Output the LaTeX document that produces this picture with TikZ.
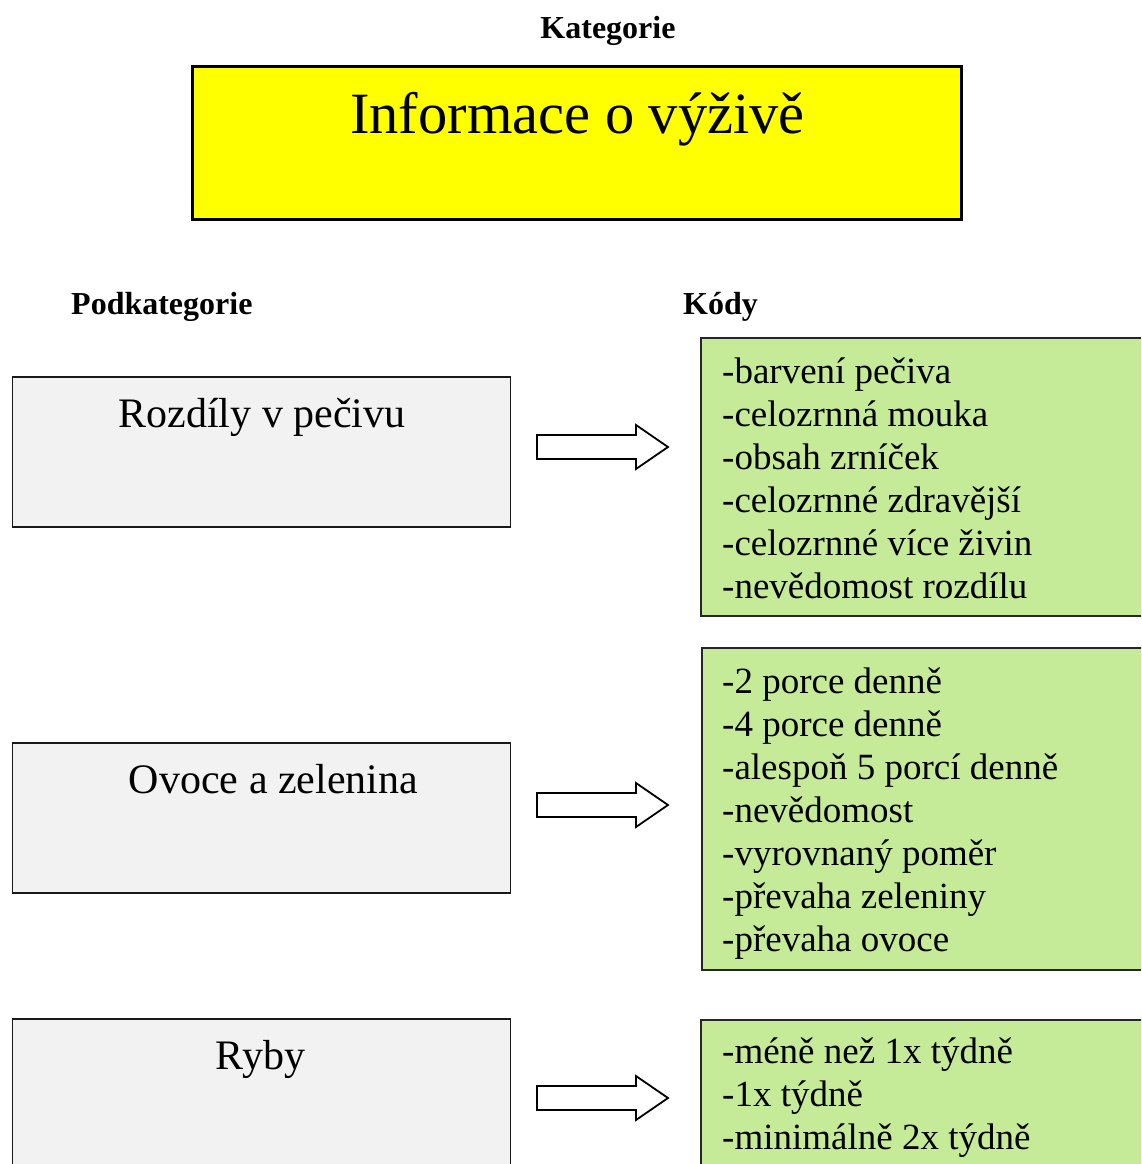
\documentclass[tikz,border=0pt]{standalone}
\usepackage{fontspec}
\setmainfont{Liberation Serif}
\definecolor{codegreen}{RGB}{198,235,152}
\definecolor{subgray}{RGB}{242,242,242}
\definecolor{catyellow}{RGB}{255,255,0}
\tikzset{
  catbox/.style={draw=black, line width=3.5pt, fill=catyellow, inner sep=0pt},
  subbox/.style={draw=black!90, line width=1.5pt, fill=subgray, inner sep=0pt,
                 minimum width=498pt},
  codebox/.style={draw=black!85, line width=1.8pt, fill=codegreen},
  heading/.style={font=\fontsize{32}{37}\selectfont\bfseries, inner sep=0pt},
  subtext/.style={font=\fontsize{42}{48}\selectfont, inner sep=0pt, anchor=base},
  codetext/.style={font=\fontsize{37}{43}\selectfont, inner sep=0pt, anchor=base west},
  blockarrow/.style={draw=black, line width=1.8pt, fill=white, line join=miter},
}
\usetikzlibrary{calc}
% block arrow whose tip sits at the given coordinate
\newcommand{\blockarrowat}[1]{%
  \draw[blockarrow] ($(#1)+(-131,-12)$) -- ($(#1)+(-32,-12)$) -- ($(#1)+(-32,-22)$)
    -- (#1) -- ($(#1)+(-32,22)$) -- ($(#1)+(-32,12)$) -- ($(#1)+(-131,12)$) -- cycle;}
\begin{document}
\begin{tikzpicture}[x=1pt,y=-1pt]
\useasboundingbox (0,0) rectangle (1141,1164);
\clip (0,0) rectangle (1141,1164);
\fill[white] (0,0) rectangle (1141,1164);

% category
\node[heading, anchor=base] (kat) at (608,38) {Kategorie};
\node[catbox, minimum width=769pt, minimum height=153pt] (cat) at (577,143) {};
\node[font=\fontsize{58.5}{66}\selectfont, inner sep=0pt, anchor=base] (cattext)
  at (577.5,133) {Informace o výživě};

% column headings
\node[heading, anchor=base west] (podkat) at (71,314) {Podkategorie};
\node[heading, anchor=base west] (kody) at (683,314) {Kódy};

% subcategory boxes
\node[subbox, minimum height=150pt] (s1) at (261.5,452) {};
\node[subbox, minimum height=150pt] (s2) at (261.5,818) {};
\node[subbox, minimum height=156pt] (s3) at (261.5,1097) {};
\node[subtext] (s1t) at (262,427) {Rozdíly v pečivu};
\node[subtext] (s2t) at (273.5,793) {Ovoce a zelenina};
\node[subtext] (s3t) at (260.5,1069) {Ryby};

% code boxes
\draw[codebox] (701,338) rectangle (1160,616);
\draw[codebox] (702,648) rectangle (1160,970);
\draw[codebox] (701,1020) rectangle (1160,1190);

\foreach \t [count=\i from 0] in {-barvení pečiva,-celozrnná mouka,-obsah zrníček,
    -celozrnné zdravější,-celozrnné více živin,-nevědomost rozdílu}
  \node[codetext] (a\i) at (722,383+43*\i) {\t};
\foreach \t [count=\i from 0] in {-2 porce denně,-4 porce denně,-alespoň 5 porcí denně,
    -nevědomost,-vyrovnaný poměr,-převaha zeleniny,-převaha ovoce}
  \node[codetext] (b\i) at (722,693+43*\i) {\t};
\foreach \t [count=\i from 0] in {-méně než 1x týdně,-1x týdně,-minimálně 2x týdně}
  \node[codetext] (c\i) at (722,1063+43*\i) {\t};

% block arrows
\coordinate (t1) at (668,447);
\coordinate (t2) at (668,805);
\coordinate (t3) at (668,1098);
\blockarrowat{t1}
\blockarrowat{t2}
\blockarrowat{t3}
\end{tikzpicture}
\end{document}
